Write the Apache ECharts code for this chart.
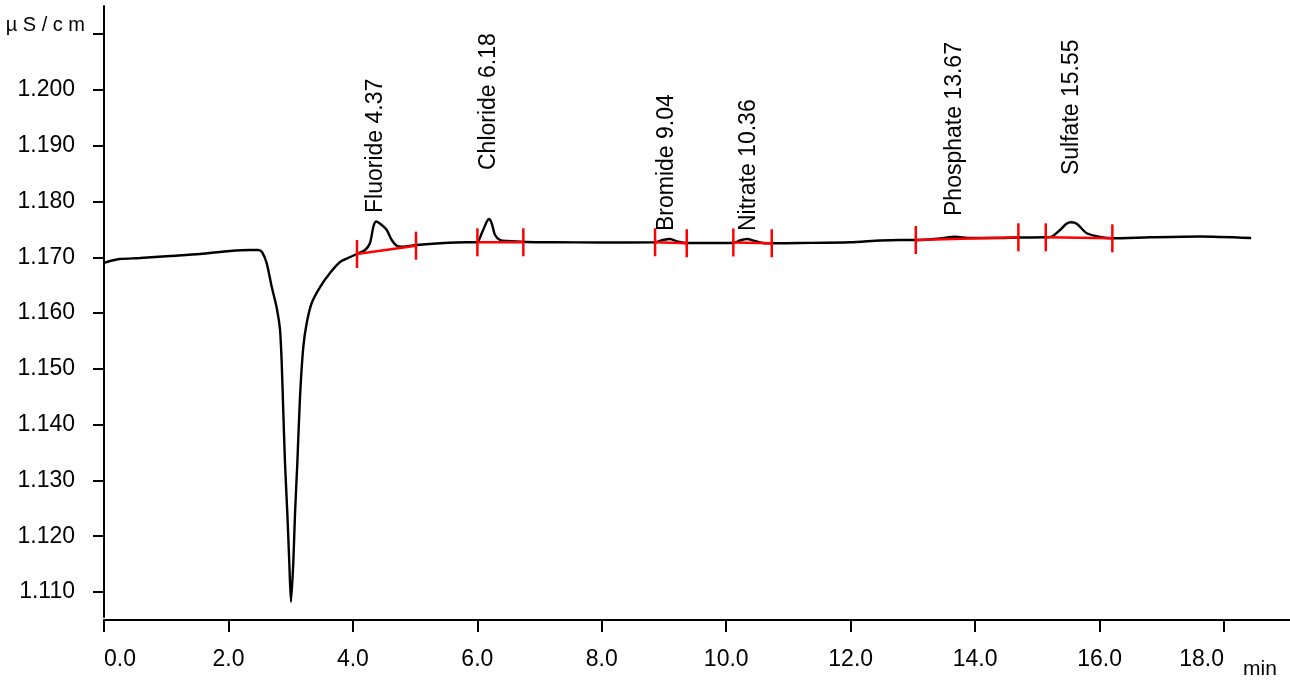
<!DOCTYPE html>
<html><head><meta charset="utf-8">
<script src="https://cdn.jsdelivr.net/npm/echarts@6/dist/echarts.min.js"></script>
<style>html,body{margin:0;padding:0;background:#fff}#c{width:1290px;height:681px}</style>
</head><body><div id="c"></div>
<script>
// ---- chromatogram trace (time in min, conductivity in µS/cm) ----
const timeMin = [0.000,0.096,0.257,0.579,1.061,1.543,2.025,2.346,2.475,2.539,2.615,2.695,2.776,2.829,2.856,2.882,2.909,2.946,2.978,3.005,3.042,3.070,3.107,3.150,3.203,3.258,3.338,3.472,3.632,3.793,3.954,4.066,4.195,4.275,4.328,4.372,4.463,4.544,4.624,4.704,4.785,5.026,5.400,5.829,5.995,6.070,6.151,6.188,6.231,6.284,6.365,6.472,6.794,7.216,7.972,8.856,8.984,9.097,9.209,9.354,9.740,10.109,10.222,10.334,10.463,10.591,10.736,11.186,11.990,12.472,12.793,13.050,13.436,13.677,13.918,14.401,14.690,15.140,15.236,15.365,15.462,15.542,15.638,15.794,16.008,16.201,16.811,17.615,18.435];
const signal = [1.16899,1.16934,1.16970,1.16988,1.17024,1.17060,1.17114,1.17132,1.17132,1.17096,1.16893,1.16474,1.16092,1.15697,1.15106,1.14209,1.13313,1.12417,1.11520,1.10821,1.11520,1.12417,1.13313,1.14496,1.15393,1.15823,1.16181,1.16468,1.16719,1.16917,1.17006,1.17060,1.17132,1.17257,1.17544,1.17643,1.17580,1.17490,1.17311,1.17209,1.17191,1.17221,1.17252,1.17270,1.17270,1.17431,1.17639,1.17687,1.17610,1.17401,1.17311,1.17293,1.17275,1.17270,1.17266,1.17270,1.17311,1.17329,1.17284,1.17257,1.17257,1.17257,1.17302,1.17329,1.17293,1.17257,1.17252,1.17257,1.17270,1.17302,1.17311,1.17311,1.17338,1.17370,1.17347,1.17347,1.17356,1.17359,1.17374,1.17490,1.17598,1.17628,1.17598,1.17431,1.17365,1.17341,1.17359,1.17374,1.17347];

// ---- identified peaks ----
const peakNames = ['Fluoride','Chloride','Bromide','Nitrate','Phosphate','Sulfate'];
const peakTimes = [4.37, 6.18, 9.04, 10.36, 13.67, 15.55];
// integration baselines
const baseStartTime  = [4.066, 6.001, 8.856, 10.114, 13.046, 15.135];
const baseStartValue = [1.17060, 1.17270, 1.17270, 1.17266, 1.17311, 1.17359];
const baseEndTime    = [5.014, 6.739, 9.365, 10.731, 14.695, 16.205];
const baseEndValue   = [1.17209, 1.17270, 1.17252, 1.17252, 1.17359, 1.17341];

// ---- axis ticks ----
const xTickValues = [0, 2, 4, 6, 8, 10, 12, 14, 16, 18];
const yTickValues = [1.110, 1.120, 1.130, 1.140, 1.150, 1.160, 1.170, 1.180, 1.190, 1.200, 1.210];
const yUnit = 'µS/cm';
const xUnit = 'min';

// ---- layout (label heights in axis units) ----
const labelLevels = [1.17795, 1.18566, 1.17472, 1.17472, 1.17741, 1.18476];

const FONT = '"Liberation Sans", Arial, Helvetica, sans-serif';
const traceData = timeMin.map((t, i) => [t, signal[i]]);
const baseData = peakNames.map((n, i) => [baseStartTime[i], baseStartValue[i], baseEndTime[i], baseEndValue[i]]);
const labelData = peakNames.map((n, i) => [peakTimes[i], labelLevels[i], n + ' ' + peakTimes[i].toFixed(2)]);

const chart = echarts.init(document.getElementById('c'));
chart.setOption({
  animation: false,
  backgroundColor: '#fff',
  grid: { left: 104, right: 0, top: 6, bottom: 64, containLabel: false },
  xAxis: {
    type: 'value', min: 0, max: 19.06, offset: 3,
    axisLine: { lineStyle: { color: '#000', width: 2 } },
    axisTick: { customValues: xTickValues, length: 12, lineStyle: { color: '#000', width: 2 } },
    axisLabel: { customValues: xTickValues, formatter: v => v.toFixed(1), color: '#000', fontSize: 23, fontFamily: FONT, margin: 28, alignMinLabel: 'left', alignMaxLabel: 'right' },
    splitLine: { show: false }
  },
  yAxis: {
    type: 'value', min: 1.10552, max: 1.21506, offset: 3,
    axisLine: { lineStyle: { color: '#000', width: 2 } },
    axisTick: { customValues: yTickValues, length: 11, lineStyle: { color: '#000', width: 2 } },
    axisLabel: { customValues: yTickValues, formatter: v => (v > 1.2095 ? '' : v.toFixed(3)), color: '#000', fontSize: 23, fontFamily: FONT, margin: 26 },
    splitLine: { show: false }
  },
  graphic: [
    { type: 'text', x: 85, y: 35, style: { text: yUnit.split('').join(' '), fill: '#000', font: '20px ' + FONT, align: 'right', verticalAlign: 'bottom' } },
    { type: 'text', x: 1243, y: 680, style: { text: xUnit, fill: '#000', font: '21px ' + FONT, align: 'left', verticalAlign: 'bottom' } }
  ],
  series: [
    {
      type: 'line', data: traceData, showSymbol: false, smooth: 0.25,
      lineStyle: { color: '#000', width: 2.4 }, z: 2, silent: true
    },
    {
      type: 'custom', data: baseData, z: 3, clip: false, silent: true,
      encode: { x: [0, 2], y: [1, 3] },
      renderItem: (params, api) => {
        const p0 = api.coord([api.value(0), api.value(1)]);
        const p1 = api.coord([api.value(2), api.value(3)]);
        const h = 14, st = { stroke: '#ff0000', lineWidth: 2.5 };
        return { type: 'group', children: [
          { type: 'line', shape: { x1: p0[0], y1: p0[1], x2: p1[0], y2: p1[1] }, style: st },
          { type: 'line', shape: { x1: p0[0], y1: p0[1] - h, x2: p0[0], y2: p0[1] + h }, style: st },
          { type: 'line', shape: { x1: p1[0], y1: p1[1] - h, x2: p1[0], y2: p1[1] + h }, style: st }
        ] };
      }
    },
    {
      type: 'custom', data: labelData, z: 4, clip: false, silent: true,
      encode: { x: 0, y: 1 },
      renderItem: (params, api) => {
        const p = api.coord([api.value(0), api.value(1)]);
        return { type: 'text', x: p[0], y: p[1], rotation: Math.PI / 2,
          style: { text: labelData[params.dataIndex][2], fill: '#000', font: '23px ' + FONT, align: 'left', verticalAlign: 'middle' } };
      }
    }
  ]
});
</script>
</body></html>
